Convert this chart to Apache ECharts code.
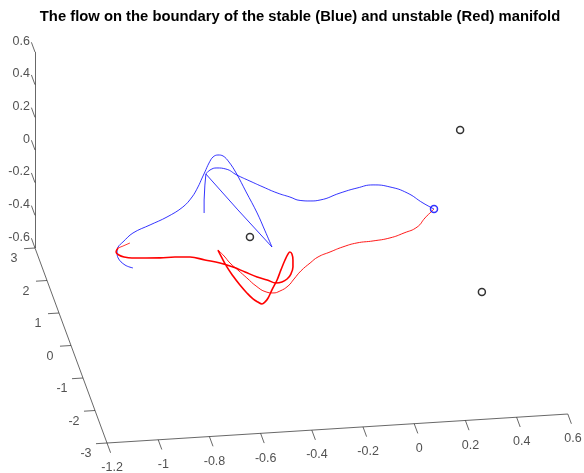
<!DOCTYPE html>
<html>
<head>
<meta charset="utf-8">
<script src="https://cdn.jsdelivr.net/npm/echarts@6/dist/echarts.min.js"></script>
<style>
html, body { margin: 0; padding: 0; background: #fff; }
#main { width: 584px; height: 473px; }
</style>
</head>
<body>
<div id="main"></div>
<script>
// tick values of the three axes
var xTicks = [-1.2, -1, -0.8, -0.6, -0.4, -0.2, 0, 0.2, 0.4, 0.6];
var yTicks = [-3, -2, -1, 0, 1, 2, 3];
var zTicks = [-0.6, -0.4, -0.2, 0, 0.2, 0.4, 0.6];

// boundary of the stable manifold (blue), points as [x, y, z]
var stableA = [
    [-0.958, 0, -0.149], [-0.989, 0, -0.128], [-1.016, 0, -0.082], [-1.020, 0, -0.045],
    [-1.016, 0, -0.015], [-0.997, 0, 0.014], [-0.958, 0, 0.065], [-0.891, 0, 0.108],
    [-0.825, 0, 0.150], [-0.763, 0, 0.205], [-0.727, 0, 0.263], [-0.704, 0, 0.322],
    [-0.688, 0, 0.375], [-0.677, 0, 0.411], [-0.661, 0, 0.464], [-0.645, 0, 0.500],
    [-0.626, 0, 0.510], [-0.606, 0, 0.502], [-0.583, 0, 0.463], [-0.555, 0, 0.393],
    [-0.516, 0, 0.273], [-0.473, 0, 0.140], [-0.442, 0, 0.027], [-0.415, 0, -0.074]
];
var stableFold = [
    [-0.415, 0, -0.074], [-0.548, 0, 0.166], [-0.673, 0, 0.398], [-0.677, 0, 0.331],
    [-0.680, 0, 0.240], [-0.680, 0, 0.160]
];
var stableB = [
    [-0.673, 0, 0.398], [-0.657, 0, 0.421], [-0.630, 0, 0.431], [-0.595, 0, 0.421],
    [-0.552, 0, 0.380], [-0.501, 0, 0.338], [-0.450, 0, 0.297], [-0.395, 0, 0.255],
    [-0.345, 0, 0.225], [-0.305, 0, 0.200], [-0.266, 0, 0.193], [-0.227, 0, 0.195],
    [-0.149, 0, 0.230], [-0.083, 0, 0.254], [-0.020, 0, 0.267], [0.046, 0, 0.248],
    [0.113, 0, 0.205], [0.175, 0, 0.137], [0.218, 0, 0.096]
];

// boundary of the unstable manifold (red)
var unstableA = [
    [0.218, 0, 0.096], [0.183, 0, 0.045], [0.152, 0, -0.008], [0.101, 0, -0.039],
    [0.046, 0, -0.064], [-0.020, 0, -0.076], [-0.083, 0, -0.082], [-0.138, 0, -0.101],
    [-0.188, 0, -0.127], [-0.235, 0, -0.153], [-0.266, 0, -0.187], [-0.302, 0, -0.232],
    [-0.329, 0, -0.279], [-0.352, 0, -0.319], [-0.384, 0, -0.347], [-0.411, 0, -0.356],
    [-0.438, 0, -0.347], [-0.477, 0, -0.307], [-0.513, 0, -0.254], [-0.548, 0, -0.202],
    [-0.579, 0, -0.156], [-0.602, 0, -0.111], [-0.622, 0, -0.078], [-0.626, 0, -0.072]
];
var unstableB = [
    [-0.626, 0, -0.072], [-0.614, 0, -0.110], [-0.591, 0, -0.179], [-0.567, 0, -0.237],
    [-0.540, 0, -0.295], [-0.513, 0, -0.346], [-0.489, 0, -0.385], [-0.470, 0, -0.406],
    [-0.454, 0, -0.419], [-0.442, 0, -0.408], [-0.430, 0, -0.385], [-0.415, 0, -0.337],
    [-0.395, 0, -0.278], [-0.380, 0, -0.218], [-0.364, 0, -0.159], [-0.352, 0, -0.123],
    [-0.345, 0, -0.112], [-0.337, 0, -0.125], [-0.333, 0, -0.162], [-0.333, 0, -0.205],
    [-0.341, 0, -0.247], [-0.356, 0, -0.276], [-0.376, 0, -0.292], [-0.399, 0, -0.296],
    [-0.434, 0, -0.274], [-0.473, 0, -0.252], [-0.520, 0, -0.217], [-0.567, 0, -0.182],
    [-0.618, 0, -0.152], [-0.677, 0, -0.128], [-0.735, 0, -0.104], [-0.794, 0, -0.098],
    [-0.852, 0, -0.098], [-0.911, 0, -0.093], [-0.962, 0, -0.088], [-0.993, 0, -0.078],
    [-1.013, 0, -0.064], [-1.024, 0, -0.045], [-1.016, 0, -0.021]
];
var unstableTail = [
    [-1.016, 0, -0.021], [-0.997, 0, -0.011], [-0.970, 0, 0.005]
];

// equilibria
var eqBlack = [[0.320, 0, 0.570], [-0.501, 0, -0.004], [0.405, 0, -0.431]];
var eqBlue = [[0.218, 0, 0.096]];

// orthographic camera: pixel position of the box corner and of one unit along each axis
var cam = { ox: 107, oy: 443, ex: [256, -16.1], ey: [-12, -32.5], ez: [0, -163.3] };
var lo = [-1.2, -3, -0.6];
var hi = [0.6, 3, 0.6];

function proj(p) {
    var u = p[0] - lo[0], v = p[1] - lo[1], w = p[2] - lo[2];
    return [
        cam.ox + u * cam.ex[0] + v * cam.ey[0] + w * cam.ez[0],
        cam.oy + u * cam.ex[1] + v * cam.ey[1] + w * cam.ez[1]
    ];
}

function fmt(v) { return String(Number(v.toFixed(1))); }

var axisColor = '#262626';
var font = 'Helvetica, "Liberation Sans", Arial, sans-serif';

var axisSegs = [
    [[lo[0], lo[1], lo[2]], [hi[0], lo[1], lo[2]]],
    [[lo[0], lo[1], lo[2]], [lo[0], hi[1], lo[2]]],
    [[lo[0], hi[1], lo[2]], [lo[0], hi[1], hi[2]]]
];
var tickSegs = [];
var xLab = [], yLab = [], zLab = [];
xTicks.forEach(function (t) {
    var a = proj([t, lo[1], lo[2]]), b = proj([t, lo[1] - 0.3, lo[2]]);
    tickSegs.push([a, b]);
    xLab.push([b[0], b[1], fmt(t)]);
});
yTicks.forEach(function (t) {
    var a = proj([lo[0], t, lo[2]]), b = proj([lo[0] - 0.043, t, lo[2]]);
    tickSegs.push([a, b]);
    yLab.push([b[0], b[1], fmt(t)]);
});
zTicks.forEach(function (t) {
    var a = proj([lo[0], hi[1], t]), b = proj([lo[0], hi[1] + 0.3, t]);
    tickSegs.push([a, b]);
    zLab.push([b[0], b[1], fmt(t)]);
});

function curve(pts, color, width, smooth) {
    return {
        type: 'line', data: pts.map(proj), symbol: 'none', silent: true,
        smooth: smooth, lineStyle: { color: color, width: width }, z: 3
    };
}
function labels(data, align, offset) {
    return {
        type: 'scatter', data: data, symbolSize: 0, silent: true,
        label: {
            show: true, position: 'inside', offset: offset, align: align, verticalAlign: 'middle',
            color: axisColor, fontSize: 12.5, fontFamily: font,
            formatter: function (p) { return p.value[2]; }
        }
    };
}
function rings(pts, color) {
    return {
        type: 'scatter', data: pts.map(proj), symbol: 'circle', symbolSize: 7, silent: true,
        itemStyle: { color: 'rgba(0,0,0,0)', borderColor: color, borderWidth: 1.5 }, z: 4
    };
}

var myChart = echarts.init(document.getElementById('main'));
var option = {
    animation: false,
    backgroundColor: '#fff',
    title: {
        text: 'The flow on the boundary of the stable (Blue) and unstable (Red) manifold',
        left: 295, top: 4, textAlign: 'center',
        textStyle: { fontSize: 14.8, fontWeight: 'bold', color: '#000', fontFamily: font }
    },
    grid: { left: 0, right: 0, top: 0, bottom: 0 },
    xAxis: { type: 'value', min: 0, max: 584, show: false },
    yAxis: { type: 'value', min: 0, max: 473, inverse: true, show: false },
    series: [
        {
            type: 'lines', coordinateSystem: 'cartesian2d', silent: true,
            data: axisSegs.map(function (s) { return { coords: [proj(s[0]), proj(s[1])] }; })
                .concat(tickSegs.map(function (s) { return { coords: s }; })),
            lineStyle: { color: axisColor, width: 0.7, opacity: 1 }
        },
        labels(xLab, 'center', [1.5, 15]),
        labels(yLab, 'center', [-10, 10]),
        labels(zLab, 'right', [-1.5, -1]),
        curve(stableA, '#0000ff', 0.8, 0.4),
        curve(stableFold, '#0000ff', 0.8, false),
        curve(stableB, '#0000ff', 0.8, 0.5),
        curve(unstableA, '#ff0000', 0.9, 0.5),
        curve(unstableB, '#ff0000', 1.6, 0.4),
        curve(unstableTail, '#ff0000', 0.8, false),
        rings(eqBlack, '#000'),
        rings(eqBlue, '#0000ff')
    ]
};
option && myChart.setOption(option);
</script>
</body>
</html>
